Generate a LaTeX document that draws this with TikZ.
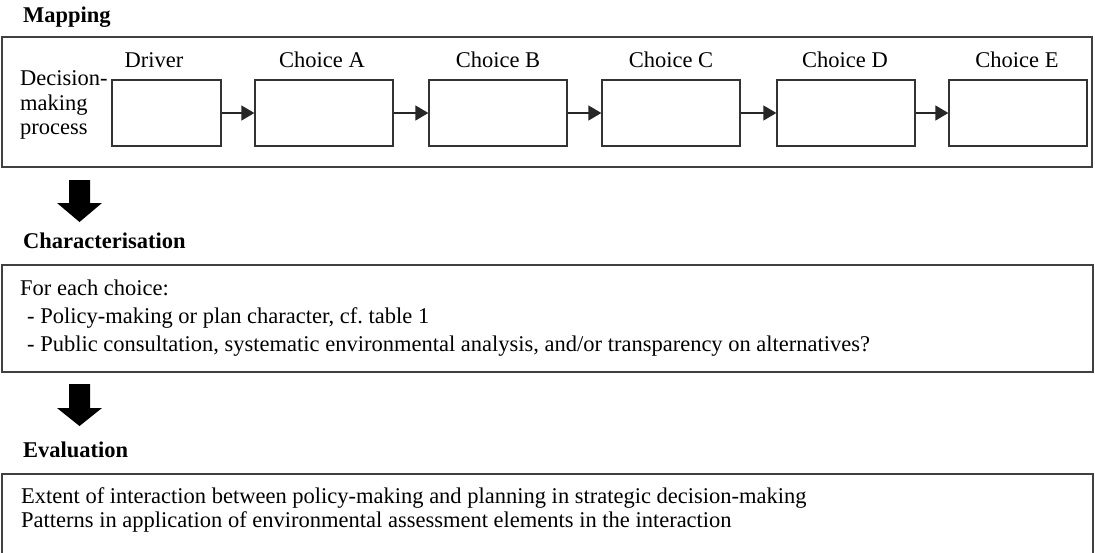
\documentclass[tikz,border=0pt]{standalone}
\usepackage{fontspec}
\setmainfont{Liberation Serif}
\usetikzlibrary{arrows.meta}
\begin{document}
\begin{tikzpicture}[x=1pt, y=-1pt,
  every node/.style={inner sep=0pt, font=\fontsize{22.5}{28}\selectfont},
  txt/.style={anchor=base west},
  ttl/.style={anchor=base west, font=\fontsize{22.5}{28}\selectfont\bfseries},
  lbl/.style={anchor=base},
  frame/.style={draw=black!75, line width=1.4pt},
  choicebox/.style={draw=black!80, line width=1.3pt, minimum width=138pt, minimum height=66pt},
  flow/.style={draw=black!85, line width=1.3pt, -{Triangle[length=13pt, width=15pt]}},
  bigarrow/.style={fill=black}]
\clip (0,0) rectangle (1095,552);
\fill[white] (0,0) rectangle (1095,552);
% mapping
\node[ttl] (tmap) at (23,22) {Mapping};
\draw[frame] (2,37) rectangle (1092,167);
\node[txt] (dm1) at (20,85) {Decision-};
\node[txt] (dm2) at (20,110) {making};
\node[txt] (dm3) at (20,134) {process};
\node[choicebox, minimum width=109pt] (drv) at (166.5,113) {};
\node[choicebox] (chA) at (324,113) {};
\node[choicebox] (chB) at (498,113) {};
\node[choicebox] (chC) at (671,113) {};
\node[choicebox] (chD) at (846,113) {};
\node[choicebox] (chE) at (1018,113) {};
\node[lbl] (ldrv) at (154,67) {Driver};
\node[lbl] (lchA) at (322,67) {Choice A};
\node[lbl] (lchB) at (498,67) {Choice B};
\node[lbl] (lchC) at (671,67) {Choice C};
\node[lbl] (lchD) at (845,67) {Choice D};
\node[lbl] (lchE) at (1017,67) {Choice E};
\draw[flow] (drv) -- (chA);
\draw[flow] (chA) -- (chB);
\draw[flow] (chB) -- (chC);
\draw[flow] (chC) -- (chD);
\draw[flow] (chD) -- (chE);
% characterisation
\fill[bigarrow] (69,180) -- (90,180) -- (90,203) -- (102,203) -- (79.5,222) -- (57,203) -- (69,203) -- cycle;
\node[ttl] (tchar) at (23,248) {Characterisation};
\draw[frame] (2,265) rectangle (1093,372);
\node[txt] (ch1) at (20,295) {For each choice:};
\node[txt] (ch2) at (27,323) {- Policy-making or plan character, cf.\ table 1};
\node[txt] (ch3) at (27,351) {- Public consultation, systematic environmental analysis, and/or transparency on alternatives?};
% evaluation
\fill[bigarrow] (69,384) -- (90,384) -- (90,408) -- (102,408) -- (79.5,426) -- (57,408) -- (69,408) -- cycle;
\node[ttl] (teval) at (23,457) {Evaluation};
\draw[frame] (2,474) rectangle (1093,560);
\node[txt] (ev1) at (21,503) {Extent of interaction between policy-making and planning in strategic decision-making};
\node[txt] (ev2) at (21,527) {Patterns in application of environmental assessment elements in the interaction};
\end{tikzpicture}
\end{document}
